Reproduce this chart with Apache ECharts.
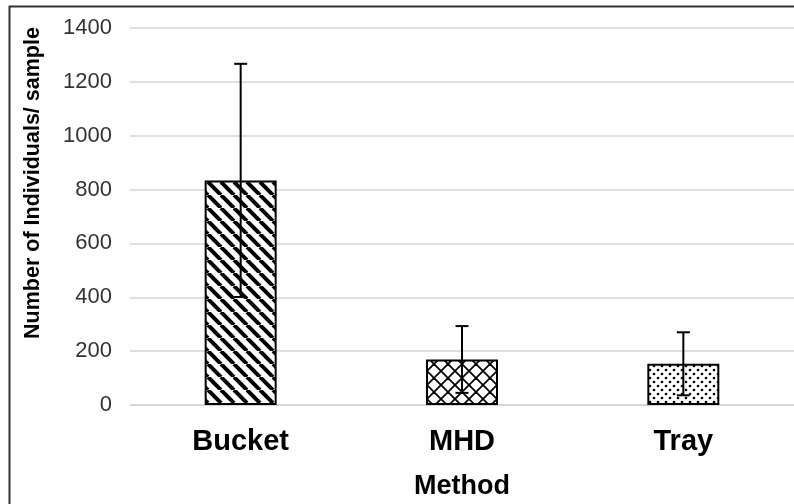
<!DOCTYPE html>
<html>
<head>
<meta charset="utf-8">
<script src="https://cdn.jsdelivr.net/npm/echarts@6/dist/echarts.min.js"></script>
<style>
  html, body { margin: 0; padding: 0; background: #fff; }
  #chart { width: 794px; height: 504px; }
</style>
</head>
<body>
<div id="chart"></div>
<script>
const categories = ["Bucket", "MHD", "Tray"];
const means = [834, 169, 153];
const errors = [433, 124, 117];
const yTicks = [0, 200, 400, 600, 800, 1000, 1200, 1400];

const FONT = "'Liberation Sans', Arial, sans-serif";

// fill patterns drawn on small canvases
function makeTile(size, draw) {
  const c = document.createElement("canvas");
  c.width = size;
  c.height = size;
  const ctx = c.getContext("2d");
  ctx.fillStyle = "#fff";
  ctx.fillRect(0, 0, size, size);
  draw(ctx, size);
  return { image: c, repeat: "repeat" };
}

const hatch = makeTile(13, (ctx, s) => {
  ctx.strokeStyle = "#000";
  ctx.lineWidth = 4;
  for (let k = -1; k <= 1; k++) {
    ctx.beginPath();
    ctx.moveTo(k * s, 0);
    ctx.lineTo(k * s + s, s);
    ctx.stroke();
  }
});

const cross = makeTile(14, (ctx, s) => {
  ctx.strokeStyle = "#000";
  ctx.lineWidth = 1.8;
  for (let k = -1; k <= 1; k++) {
    ctx.beginPath();
    ctx.moveTo(k * s, 0);
    ctx.lineTo(k * s + s, s);
    ctx.stroke();
    ctx.beginPath();
    ctx.moveTo(k * s + s, 0);
    ctx.lineTo(k * s, s);
    ctx.stroke();
  }
});

const dots = makeTile(8, (ctx) => {
  ctx.fillStyle = "#000";
  [[2, 2], [6, 6]].forEach(([x, y]) => {
    ctx.beginPath();
    ctx.arc(x, y, 1.35, 0, Math.PI * 2);
    ctx.fill();
  });
});

const fills = [hatch, cross, dots];

const chart = echarts.init(document.getElementById("chart"));

const option = {
  animation: false,
  backgroundColor: "#fff",
  grid: { left: 130, right: 0, top: 28, bottom: 99, containLabel: false, outerBoundsMode: "none" },
  graphic: [
    {
      type: "rect",
      shape: { x: 9.5, y: 6.5, width: 800, height: 520 },
      style: { fill: null, stroke: "#333", lineWidth: 2 },
      silent: true
    },
    {
      type: "text",
      x: 33,
      y: 183,
      rotation: Math.PI / 2,
      style: {
        text: "Number of Individuals/ sample",
        font: "bold 21.5px " + FONT,
        fill: "#000",
        align: "center",
        verticalAlign: "middle"
      }
    }
  ],
  xAxis: {
    type: "category",
    data: categories,
    name: "Method",
    nameLocation: "middle",
    nameGap: 68,
    nameTextStyle: { fontFamily: FONT, fontSize: 27, fontWeight: "bold", color: "#000" },
    axisLine: { lineStyle: { color: "#d4d4d4", width: 1.5 } },
    axisTick: { show: false },
    axisLabel: { margin: 22, fontFamily: FONT, fontSize: 29, fontWeight: "bold", color: "#000" }
  },
  yAxis: {
    type: "value",
    min: yTicks[0],
    max: yTicks[yTicks.length - 1],
    interval: 200,
    axisLine: { show: false },
    axisTick: { show: false },
    axisLabel: {
      margin: 18,
      fontFamily: FONT,
      fontSize: 22,
      color: "#333",
      formatter: (v) => String(v)
    },
    splitLine: { lineStyle: { color: "#d4d4d4", width: 1.5 } }
  },
  series: [
    {
      type: "bar",
      barWidth: 72,
      data: means.map((v, i) => ({
        value: v,
        itemStyle: { color: fills[i], borderColor: "#000", borderWidth: 2 }
      }))
    },
    {
      type: "custom",
      data: means.map((m, i) => [i, m - errors[i], m + errors[i]]),
      renderItem: (params, api) => {
        const hi = api.coord([api.value(0), api.value(2)]);
        const lo = api.coord([api.value(0), api.value(1)]);
        const hw = 6.5;
        const st = { stroke: "#000", lineWidth: 2 };
        return {
          type: "group",
          children: [
            { type: "line", shape: { x1: hi[0], y1: hi[1], x2: lo[0], y2: lo[1] }, style: st },
            { type: "line", shape: { x1: hi[0] - hw, y1: hi[1], x2: hi[0] + hw, y2: hi[1] }, style: st },
            { type: "line", shape: { x1: lo[0] - hw, y1: lo[1], x2: lo[0] + hw, y2: lo[1] }, style: st }
          ]
        };
      },
      z: 10
    }
  ]
};

chart.setOption(option);
</script>
</body>
</html>
